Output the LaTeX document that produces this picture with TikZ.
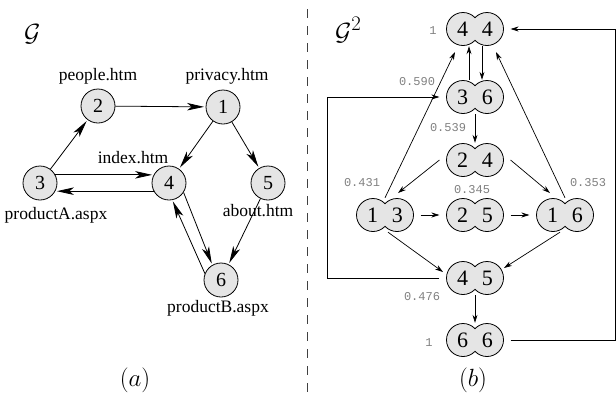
\documentclass[tikz,border=0pt]{standalone}
\usepackage{fontspec}
\setmainfont{Liberation Serif}
\setmonofont{Liberation Mono}
\usetikzlibrary{arrows.meta,shapes.geometric}
\begin{document}
\begin{tikzpicture}[x=1pt,y=-1pt,
  vtx/.style={circle,draw,line width=0.8pt,fill=black!10,minimum size=34pt,inner sep=0pt,font=\fontsize{20}{20}\selectfont},
  lbl/.style={font=\fontsize{17.5}{17.5}\selectfont,inner sep=0pt},
  bigarrow/.style={line width=0.8pt,shorten >=1.5pt,-{Stealth[length=17pt,width=7.5pt,inset=4.5pt]}},
  blob/.style={ellipse,minimum width=60pt,minimum height=34pt,inner sep=0pt,font=\fontsize{22}{22}\selectfont},
  smallarrow/.style={line width=0.7pt,-{Stealth[length=8pt,width=5pt]}},
  weight/.style={font=\ttfamily\fontsize{12}{12}\selectfont,text=black!50,inner sep=0pt},
  title/.style={font=\fontsize{31}{31}\selectfont,inner sep=0pt,anchor=base west},
  caption/.style={font=\fontsize{23}{23}\selectfont,inner sep=0pt},
  blobshape/.pic={
    \fill[black!10] (-12,0) circle[radius=16.5] (12,0) circle[radius=16.5];
    \begin{scope}[even odd rule]
      \clip (-40,-40) rectangle (40,40) (12,0) circle[radius=16.5];
      \draw[line width=0.8pt] (-12,0) circle[radius=16.5];
    \end{scope}
    \begin{scope}[even odd rule]
      \clip (-40,-40) rectangle (40,40) (-12,0) circle[radius=16.5];
      \draw[line width=0.8pt] (12,0) circle[radius=16.5];
    \end{scope}
  }]
\useasboundingbox (0,0) rectangle (616,392);

% separator
\draw[line width=0.9pt,black!75,dash pattern=on 8.5pt off 8.5pt] (307.5,9) -- (307.5,392);

% ---------- (a) ----------
\node[title] (tG) at (24,41) {$\mathcal{G}$};
\node[vtx] (n1) at (223,107) {1};
\node[vtx] (n2) at (98,106) {2};
\node[vtx] (n3) at (40,183) {3};
\node[vtx] (n4) at (169,183) {4};
\node[vtx] (n5) at (268,183) {5};
\node[vtx] (n6) at (221,280) {6};

\node[lbl] (l2) at (98,76) {people.htm};
\node[lbl] (l1) at (227,76) {privacy.htm};
\node[lbl] (l4) at (133,158) {index.htm};
\node[lbl] (l3) at (56,215) {productA.aspx};
\node[lbl] (l5) at (258,211) {about.htm};
\node[lbl] (l6) at (218,308) {productB.aspx};

\draw[bigarrow] (n3) -- (n2);
\draw[bigarrow] (n2) -- (n1);
\draw[bigarrow] (n1) -- (n4);
\draw[bigarrow] (n1) -- (n5);
\draw[bigarrow] (n3.28) -- (n4.152);
\draw[bigarrow] (n4.-152) -- (n3.-28);
\draw[bigarrow] (n4.-33) -- (n6.120);
\draw[bigarrow] (n6.158) -- (n4.-79);
\draw[bigarrow] (n5) -- (n6);

\node[caption] (ca) at (135,380) {$(a)$};

% ---------- (b) ----------
\node[title] (tG2) at (335,40) {$\mathcal{G}^2$};
\foreach \nm/\x/\y/\a/\b in {44/475/29/4/4, 36/475/97/3/6, 24/475/160/2/4,
  13/385/215/1/3, 25/475/215/2/5, 16/565/215/1/6, 45/475/278/4/5, 66/475/340/6/6}{
  \pic at (\x,\y) {blobshape};
  \node[blob] (n\nm) at (\x,\y) {\makebox[25pt]{\a}\makebox[25pt]{\b}};
}

\node[weight] (w44) at (433,31) {1};
\node[weight] (w36) at (417,82) {0.590};
\node[weight] (w24) at (448,128) {0.539};
\node[weight] (w13) at (362,183) {0.431};
\node[weight] (w25) at (472,190) {0.345};
\node[weight] (w16) at (588,183) {0.353};
\node[weight] (w45) at (422,297) {0.476};
\node[weight] (w66) at (429,343) {1};

\draw[smallarrow] ([xshift=-6pt]n36.north) -- ([xshift=-6pt]n44.south);
\draw[smallarrow] ([xshift=7pt]n44.south) -- ([xshift=7pt]n36.north);
\draw[smallarrow] (n36) -- (n24);
\draw[smallarrow] (n24.west) -- ([shift={(13,-22)}]n13.center);
\draw[smallarrow] (n24.east) -- ([shift={(-15,-22)}]n16.center);
\draw[smallarrow] (n13.north) -- ([shift={(-20,23)}]n44.center);
\draw[smallarrow] (n16.north) -- ([shift={(21,23)}]n44.center);
\draw[smallarrow] (n13) -- (n25);
\draw[smallarrow] (n25) -- (n16);
\draw[smallarrow] ([xshift=3pt]n13.south) -- ([shift={(-32,-6)}]n45.center);
\draw[smallarrow] ([xshift=-5pt]n16.south) -- ([shift={(29,-10)}]n45.center);
\draw[smallarrow] (n45) -- (n66);

\coordinate (loopL) at (327,278);
\coordinate (loopR) at (615,340);
\draw[smallarrow] (n45.west) -- (loopL) |- (n36.west);
\draw[smallarrow] (n66.east) -- (loopR) |- (n44.east);

\node[caption] (cb) at (473,380) {$(b)$};
\end{tikzpicture}
\end{document}
